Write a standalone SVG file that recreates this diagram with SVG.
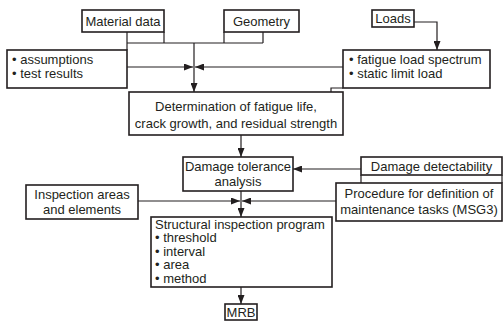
<svg xmlns="http://www.w3.org/2000/svg" width="503" height="322" viewBox="0 0 503 322">
<style>
.box{fill:#fff;stroke:#231f20;stroke-width:1.6}
.ln{fill:none;stroke:#231f20;stroke-width:1.2}
text{font-family:"Liberation Sans",Arial,sans-serif;font-size:13px;fill:#231f20}
.c{text-anchor:middle}
</style>
<defs>
<marker id="ah" markerWidth="9" markerHeight="7" refX="9" refY="3.5" orient="auto" markerUnits="userSpaceOnUse">
<path d="M0,0 L9,3.5 L0,7 Z" fill="#231f20"/>
</marker>
</defs>
<rect width="503" height="322" fill="#fff"/>
<g id="connectors">
<path class="ln" d="M127,32 V50 M164,32 V43 M224,32 V43 M263,32 V43 M127,43 H263"/>
<path class="ln" d="M194,43 V92" marker-end="url(#ah)"/>
<path class="ln" d="M127,67 H193" marker-end="url(#ah)"/>
<path class="ln" d="M343,67 H195" marker-end="url(#ah)"/>
<path class="ln" d="M414,22 H437 V50" marker-end="url(#ah)"/>
<path class="ln" d="M343,88 H331 V92"/>
<path class="ln" d="M241,135 V157" marker-end="url(#ah)"/>
<path class="ln" d="M361,169 H293" marker-end="url(#ah)"/>
<path class="ln" d="M361,175 V183 M502,175 V183"/>
<path class="ln" d="M241,191 V217" marker-end="url(#ah)"/>
<path class="ln" d="M138,201 H240" marker-end="url(#ah)"/>
<path class="ln" d="M336,201 H242" marker-end="url(#ah)"/>
<path class="ln" d="M241,287 V304" marker-end="url(#ah)"/>
</g>
<g id="material"><rect class="box" x="82" y="10" width="82" height="22"/><text class="c" x="123" y="25.5">Material data</text></g>
<g id="geometry"><rect class="box" x="224" y="10" width="75" height="22"/><text class="c" x="261.5" y="25.5">Geometry</text></g>
<g id="loads"><rect class="box" x="372" y="10" width="42" height="17"/><text class="c" x="393" y="23">Loads</text></g>
<g id="assumptions"><rect class="box" x="7" y="50" width="120" height="38"/><text x="12" y="63.5">• assumptions</text><text x="12" y="78">• test results</text></g>
<g id="fatigue"><rect class="box" x="343" y="50" width="147" height="38"/><text x="349" y="63.5">• fatigue load spectrum</text><text x="349" y="78">• static limit load</text></g>
<g id="determination"><rect class="box" x="129" y="92" width="214" height="43"/><text class="c" x="236" y="111">Determination of fatigue life,</text><text class="c" x="236" y="128">crack growth, and residual strength</text></g>
<g id="dta"><rect class="box" x="183" y="157" width="110" height="34"/><text class="c" x="238" y="171">Damage tolerance</text><text class="c" x="238" y="186">analysis</text></g>
<g id="detectability"><rect class="box" x="361" y="157" width="141" height="18"/><text class="c" x="431.5" y="170.5">Damage detectability</text></g>
<g id="procedure"><rect class="box" x="336" y="183" width="166" height="38"/><text class="c" x="419" y="198">Procedure for definition of</text><text class="c" x="419" y="214">maintenance tasks (MSG3)</text></g>
<g id="inspection-areas"><rect class="box" x="26" y="185" width="112" height="34"/><text class="c" x="82" y="198.5">Inspection areas</text><text class="c" x="82" y="213.5">and elements</text></g>
<g id="sip"><rect class="box" x="151" y="217" width="181" height="70"/><text x="155" y="228.5">Structural inspection program</text><text x="155" y="242">• threshold</text><text x="155" y="255.5">• interval</text><text x="155" y="269">• area</text><text x="155" y="282.5">• method</text></g>
<g id="mrb"><rect class="box" x="225" y="304" width="32" height="16"/><text class="c" x="241" y="316.5">MRB</text></g>
</svg>
